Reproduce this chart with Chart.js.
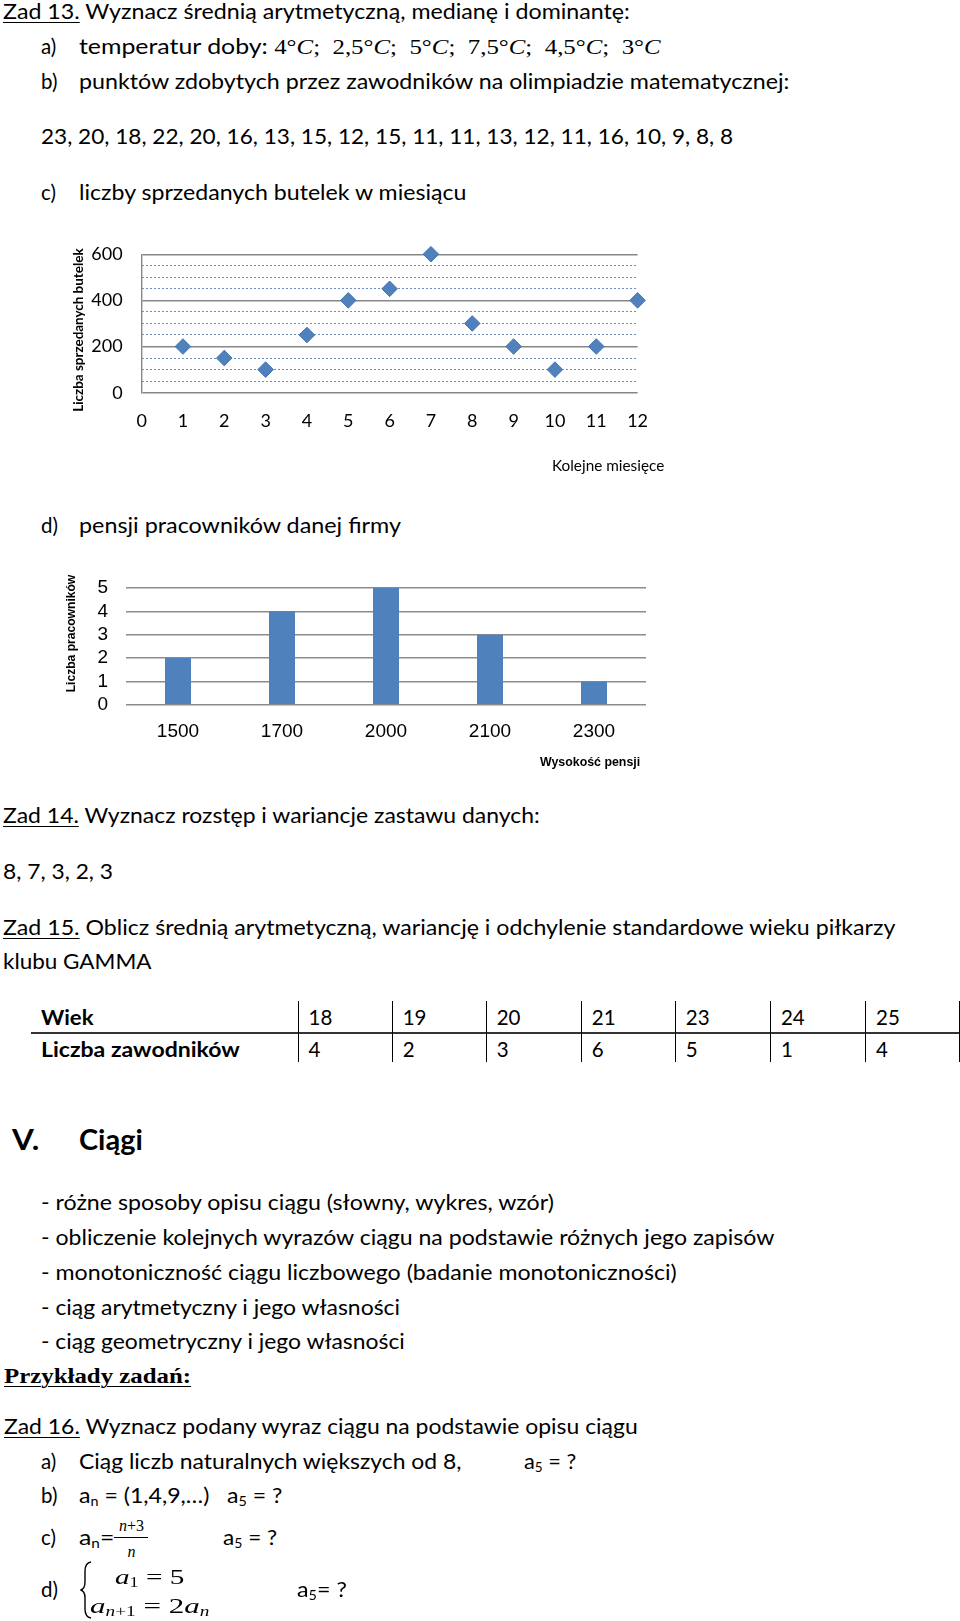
<!DOCTYPE html>
<html lang="pl">
<head>
<meta charset="utf-8">
<title>Zad 13 - 16</title>
<script src="https://cdn.jsdelivr.net/npm/chart.js@4.4.1/dist/chart.umd.min.js"></script>
<style>
  html, body { margin: 0; padding: 0; background: #fff; }
  body { position: relative; width: 960px; height: 1621px; overflow: hidden;
         font-family: Lato, "Open Sans", sans-serif; font-size: 20.5px; color: #000; }
  .t { position: absolute; white-space: nowrap; line-height: 1.2; transform-origin: 0 50%; }
  .b { font-weight: bold; }
  .u { text-decoration: underline; text-decoration-thickness: 1px; text-underline-offset: 3px; }
  .m { font-family: "Liberation Serif", serif; }
  .m i, i.m { font-style: italic; }
  .s { font-size: 0.62em; vertical-align: -0.22em; }
  .arial { font-family: "Liberation Sans", Arial, sans-serif; }
  .times { font-family: "Liberation Serif", serif; }
  .line { position: absolute; background: #000; }
  canvas { position: absolute; }
</style>
</head>
<body>

<canvas id="bottles" width="690" height="260" style="left:0;top:230px"></canvas>
<canvas id="salaries" width="690" height="230" style="left:0;top:555px"></canvas>

<div class="t" data-x="3" data-y="11.4" data-w="627"><span class="u">Zad 13.</span> Wyznacz średnią arytmetyczną, medianę i dominantę:</div>
<div class="t" data-x="41" data-y="46.5">a)</div>
<div class="t" data-x="78.5" data-y="46.5" data-w="582">temperatur doby: <span class="m">4°<i>C</i>;&nbsp; 2,5°<i>C</i>;&nbsp; 5°<i>C</i>;&nbsp; 7,5°<i>C</i>;&nbsp; 4,5°<i>C</i>;&nbsp; 3°<i>C</i></span></div>
<div class="t" data-x="41" data-y="80.6">b)</div>
<div class="t" data-x="78.5" data-y="80.6" data-w="710">punktów zdobytych przez zawodników na olimpiadzie matematycznej:</div>
<div class="t" data-x="41" data-y="136.4" data-w="692">23, 20, 18, 22, 20, 16, 13, 15, 12, 15, 11, 11, 13, 12, 11, 16, 10, 9, 8, 8</div>
<div class="t" data-x="41" data-y="192.2">c)</div>
<div class="t" data-x="78.5" data-y="192.2" data-w="387">liczby sprzedanych butelek w miesiącu</div>

<!-- chart c) titles -->
<div class="t b rot" data-x="77.5" data-y="330" data-w="163" style="font-size:13.5px">Liczba sprzedanych butelek</div>
<div class="t" data-a="c" data-x="607.6" data-y="466" data-w="112" style="font-size:14.5px">Kolejne miesięce</div>

<div class="t" data-x="41" data-y="525">d)</div>
<div class="t" data-x="78.5" data-y="525" data-w="322">pensji pracowników danej firmy</div>

<!-- chart d) titles -->
<div class="t b arial rot" data-x="72.3" data-y="633" data-w="118" style="font-size:12.5px">Liczba pracowników</div>
<div class="t b arial" data-a="c" data-x="589.5" data-y="762.6" data-w="100" style="font-size:12.5px">Wysokość pensji</div>

<div class="t" data-x="3" data-y="815.4" data-w="537"><span class="u">Zad 14.</span> Wyznacz rozstęp i wariancje zastawu danych:</div>
<div class="t" data-x="3" data-y="871" data-w="110">8, 7, 3, 2, 3</div>
<div class="t" data-x="3" data-y="927" data-w="892"><span class="u">Zad 15.</span> Oblicz średnią arytmetyczną, wariancję i odchylenie standardowe wieku piłkarzy</div>
<div class="t" data-x="3" data-y="961" data-w="149">klubu GAMMA</div>

<div class="t b" data-x="41" data-y="1017" data-w="53">Wiek</div>
<div class="t b" data-x="41" data-y="1049" data-w="199">Liczba zawodników</div>
<div class="line" style="left:31px;top:1031.5px;width:929px;height:2px;background:#333"></div>
<div id="table"></div>

<div class="t b" data-x="12.4" data-y="1140" data-w="27" style="font-size:28px">V.</div>
<div class="t b" data-x="78.5" data-y="1140" data-w="64" style="font-size:28px">Ciągi</div>

<div class="t" data-x="41" data-y="1202" data-w="513">- różne sposoby opisu ciągu (słowny, wykres, wzór)</div>
<div class="t" data-x="41" data-y="1237" data-w="733">- obliczenie kolejnych wyrazów ciągu na podstawie różnych jego zapisów</div>
<div class="t" data-x="41" data-y="1272" data-w="636">- monotoniczność ciągu liczbowego (badanie monotoniczności)</div>
<div class="t" data-x="41" data-y="1307" data-w="359">- ciąg arytmetyczny i jego własności</div>
<div class="t" data-x="41" data-y="1341" data-w="364">- ciąg geometryczny i jego własności</div>

<div class="t b u times" data-x="4" data-y="1375.5" data-w="187" data-o="0.56" style="font-size:21px">Przykłady zadań:</div>

<div class="t" data-x="4" data-y="1426" data-w="634"><span class="u">Zad 16.</span> Wyznacz podany wyraz ciągu na podstawie opisu ciągu</div>
<div class="t" data-x="41" data-y="1461">a)</div>
<div class="t" data-x="78.5" data-y="1461" data-w="382">Ciąg liczb naturalnych większych od 8,</div>
<div class="t" data-x="524" data-y="1461" data-w="52">a<span class="s">5</span> = ?</div>
<div class="t" data-x="41" data-y="1495.5">b)</div>
<div class="t" data-x="78.5" data-y="1495.5" data-w="204">a<span class="s">n</span> = (1,4,9,…)&nbsp;&nbsp; a<span class="s">5</span> = ?</div>
<div class="t" data-x="41" data-y="1537">c)</div>
<div class="t" data-x="78.5" data-y="1537" data-w="35">a<span class="s">n</span>=</div>
<div class="t m" data-a="c" data-x="131.5" data-y="1525" style="font-size:16px"><i>n</i>+3</div>
<div class="line" style="left:113.7px;top:1537px;width:34px;height:1px"></div>
<div class="t m" data-a="c" data-x="131.5" data-y="1551" style="font-size:16px"><i>n</i></div>
<div class="t" data-x="223" data-y="1537" data-w="54">a<span class="s">5</span> = ?</div>
<div class="t" data-x="41" data-y="1589.5">d)</div>
<svg style="position:absolute;left:0;top:0" width="960" height="1621">
  <path d="M91 1562 Q85 1563 85 1571 L85 1582 Q85 1589 80.5 1590 Q85 1591 85 1598 L85 1609 Q85 1617 91 1618"
        fill="none" stroke="#000" stroke-width="1.4"/>
</svg>
<div class="t m" data-x="114.7" data-y="1577" data-w="69" style="font-size:22px"><i>a</i><span class="s">1</span> = 5</div>
<div class="t m" data-x="90" data-y="1606" data-w="120" style="font-size:22px"><i>a</i><span class="s"><i>n</i>+1</span> = 2<i>a</i><span class="s"><i>n</i></span></div>
<div class="t" data-x="296.6" data-y="1589.5" data-w="50">a<span class="s">5</span>= ?</div>

<script>
// c) liczby sprzedanych butelek
const monthNumbers = [1, 2, 3, 4, 5, 6, 7, 8, 9, 10, 11, 12];
const bottlesSold = [200, 150, 100, 250, 400, 450, 600, 300, 200, 100, 200, 400];

// d) pensje
const salaryLabels = ['1500', '1700', '2000', '2100', '2300'];
const workerCounts = [2, 4, 5, 3, 1];

// Zad 15 tabela
const ages = [18, 19, 20, 21, 23, 24, 25];
const playerCounts = [4, 2, 3, 6, 5, 1, 4];

const blue = '#4f81bd';

// table columns
const colLines = [297.6, 391.7, 485.7, 580.8, 674.8, 769.9, 865, 959];
const table = document.getElementById('table');
colLines.forEach(x => {
    table.insertAdjacentHTML('beforeend',
        `<div class="line" style="left:${x}px;top:1001px;width:1px;height:61px"></div>`);
});
ages.forEach((a, i) => {
    table.insertAdjacentHTML('beforeend',
        `<div class="t" data-x="${colLines[i] + 11}" data-y="1017">${a}</div>` +
        `<div class="t" data-x="${colLines[i] + 11}" data-y="1049">${playerCounts[i]}</div>`);
});

// place text lines and squeeze them to the widths in the picture
document.querySelectorAll('.t').forEach(el => {
    const fs = parseFloat(getComputedStyle(el).fontSize);
    const w0 = el.offsetWidth;
    const k = el.dataset.w ? el.dataset.w / w0 : 1;
    const x = +el.dataset.x;
    const y = +el.dataset.y;
    if (el.classList.contains('rot')) {
        el.style.left = (x - w0 / 2) + 'px';
        el.style.top = (y - el.offsetHeight / 2) + 'px';
        el.style.transformOrigin = '50% 50%';
        el.style.transform = `rotate(-90deg) scaleX(${k})`;
        return;
    }
    const off = el.dataset.o ? +el.dataset.o : 0.59;
    el.style.left = (el.dataset.a === 'c' ? x - w0 * k / 2 : x) + 'px';
    el.style.top = (y - off * fs) + 'px';
    el.style.transform = `scaleX(${k})`;
});

// scale sizes are pinned so the plot area lands where it is in the picture
function pin(w, h) {
    return s => {
        if (w !== null) s.width = w;
        if (h !== null) s.height = h;
        s.paddingTop = 0;
        s.paddingBottom = 0;
    };
}

// Scatter chart
new Chart(document.getElementById('bottles'), {
    type: 'scatter',
    data: {
        datasets: [{
            data: monthNumbers.map((m, i) => ({ x: m, y: bottlesSold[i] })),
            pointStyle: 'rectRot',
            pointRadius: 7.8,
            backgroundColor: blue,
            borderColor: '#4575b0',
            borderWidth: 1,
            clip: false
        }]
    },
    options: {
        responsive: false,
        animation: false,
        layout: { padding: { left: 0, right: 52.4, top: 24.2, bottom: 0 } },
        plugins: { legend: { display: false }, tooltip: { enabled: false } },
        scales: {
            x: {
                type: 'linear',
                min: 0,
                max: 12,
                ticks: { stepSize: 1, padding: 18, color: '#000', font: { family: 'Lato', size: 18 } },
                grid: { display: false, drawTicks: false },
                border: { display: false },
                afterFit: pin(null, 97.3)
            },
            y: {
                min: 0,
                max: 600,
                ticks: { stepSize: 200, padding: 19, color: '#000', font: { family: 'Lato', size: 18 } },
                grid: { color: '#878787', lineWidth: 1.4, drawTicks: false },
                border: { display: true, color: '#878787', width: 1.4 },
                afterFit: pin(141.6, null)
            },
            yMinor: {
                position: 'left',
                min: 0,
                max: 600,
                ticks: { display: false, stepSize: 50 },
                grid: {
                    color: ctx => ctx.tick && ctx.tick.value % 200 === 0 ? 'rgba(0,0,0,0)' : '#6f8fc0',
                    lineWidth: 1,
                    drawTicks: false
                },
                border: { display: false, dash: [2, 2] },
                afterFit: pin(0, null)
            }
        }
    }
});

// Bar chart
new Chart(document.getElementById('salaries'), {
    type: 'bar',
    data: {
        labels: salaryLabels,
        datasets: [{
            data: workerCounts,
            backgroundColor: blue,
            barPercentage: 0.25,
            categoryPercentage: 1
        }]
    },
    options: {
        responsive: false,
        animation: false,
        layout: { padding: { left: 0, right: 44, top: 33, bottom: 0 } },
        plugins: { legend: { display: false }, tooltip: { enabled: false } },
        scales: {
            x: {
                ticks: { padding: 15.5, color: '#000', font: { family: 'Liberation Sans', size: 19 } },
                grid: { display: false, drawTicks: false },
                border: { display: false },
                afterFit: pin(null, 80.2)
            },
            y: {
                min: 0,
                max: 5,
                ticks: { stepSize: 1, autoSkip: false, padding: 18, color: '#000', font: { family: 'Liberation Sans', size: 19 } },
                grid: { color: '#8c8c8c', lineWidth: 1.5, drawTicks: false },
                border: { display: false },
                afterFit: pin(126, null)
            }
        }
    }
});
</script>
</body>
</html>
